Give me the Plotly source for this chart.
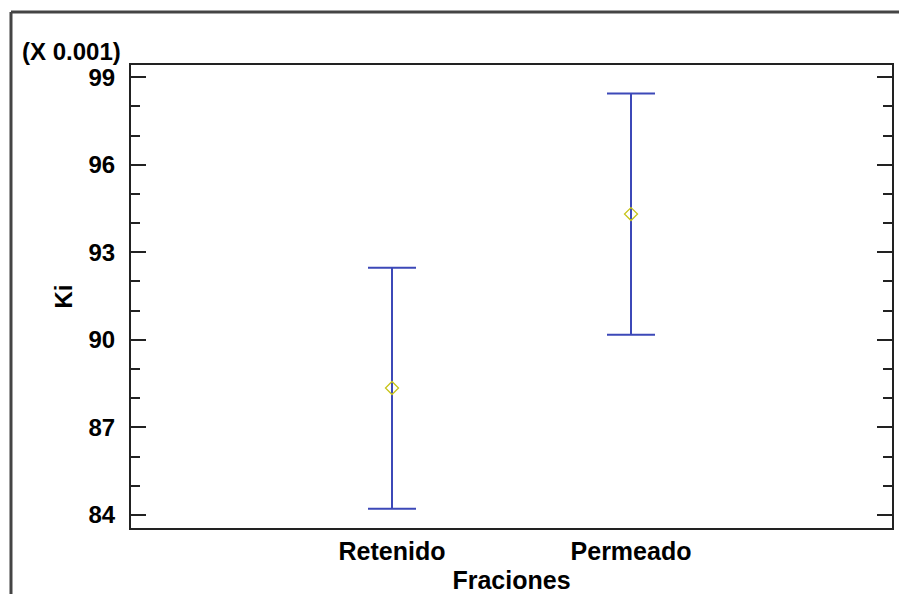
import plotly.graph_objects as go

categories = ["Retenido", "Permeado"]
x_pos = [1, 2]
means = [88.35, 94.31]
upper = [92.47, 98.44]
lower = [84.21, 90.17]
y_ticks = [84, 87, 90, 93, 96, 99]

err_plus = [u - m for u, m in zip(upper, means)]
err_minus = [m - l for m, l in zip(means, lower)]

FONT = "Liberation Sans, Arial, sans-serif"

fig = go.Figure()
fig.add_trace(go.Scatter(
    x=x_pos, y=means, mode="markers",
    marker=dict(symbol="diamond-open", size=10, color="#c8c41a", line=dict(width=1.3)),
    error_y=dict(type="data", symmetric=False, array=err_plus, arrayminus=err_minus,
                 color="#3c48b8", thickness=2, width=24),
    showlegend=False,
))

fig.update_layout(
    width=899, height=594,
    margin=dict(l=131, r=7, t=65, b=66),
    paper_bgcolor="white", plot_bgcolor="white",
    font=dict(family=FONT, size=24, color="black"),
    xaxis=dict(
        range=[-0.092, 3.092], tickvals=x_pos, ticktext=categories,
        showline=True, linecolor="#222", linewidth=2, mirror=True,
        ticks="", showgrid=False, zeroline=False, automargin=False,
        tickfont=dict(family=FONT, size=25, color="black", weight="bold"),
        title=dict(text="<b>Fraciones</b>", standoff=9, font=dict(size=25)),
    ),
    yaxis=dict(
        range=[83.55, 99.42], tickvals=y_ticks,
        showline=True, linecolor="#222", linewidth=2, mirror="allticks",
        ticks="inside", ticklen=15, tickwidth=2, tickcolor="#222",
        minor=dict(ticks="inside", ticklen=9, tickwidth=2, tickcolor="#222", dtick=1, tick0=84),
        showgrid=False, zeroline=False, ticklabelstandoff=9, automargin=False,
        tickfont=dict(family=FONT, size=24, color="black", weight="bold"),
        title=dict(text="<b>Ki</b>", standoff=9, font=dict(size=24)),
    ),
)

fig.add_annotation(text="<b>(X 0.001)</b>", xref="paper", yref="paper",
                   x=-0.146, y=0.996, xanchor="left", yanchor="bottom",
                   showarrow=False, font=dict(family=FONT, size=24, color="black"))

# outer frame with shadow
fig.add_shape(type="line", xref="paper", yref="paper", x0=-0.1577, x1=1.02, y0=1.1145, y1=1.1145,
              line=dict(color="#444", width=3))
fig.add_shape(type="line", xref="paper", yref="paper", x0=-0.1577, x1=-0.1577, y0=1.1145, y1=-0.2,
              line=dict(color="#444", width=3))

fig.write_html("out.html")
